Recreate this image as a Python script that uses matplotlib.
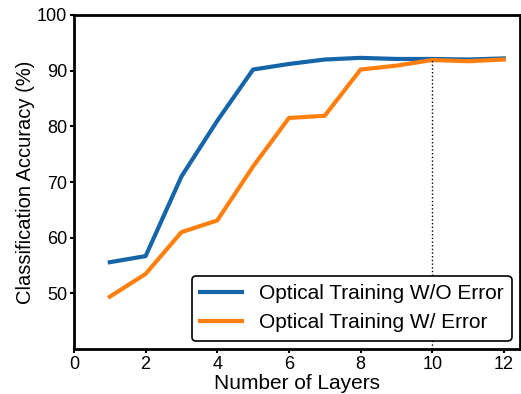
import numpy as np
import matplotlib
matplotlib.use("Agg")
import matplotlib.pyplot as plt

plt.rcParams['font.family'] = ['Liberation Sans', 'DejaVu Sans']

# accuracy vs. number of diffractive layers
layers = [1, 2, 3, 4, 5, 6, 7, 8, 9, 10, 11, 12]
acc_no_error = [55.6, 56.7, 71.0, 81.0, 90.2, 91.2, 92.0, 92.3, 92.1, 92.1, 92.0, 92.2]
acc_with_error = [49.4, 53.5, 61.0, 63.1, 72.8, 81.5, 81.9, 90.2, 90.9, 91.9, 91.7, 92.0]
x_ticks = [0, 2, 4, 6, 8, 10, 12]
y_ticks = [50, 60, 70, 80, 90, 100]
chosen_depth = 10

fig = plt.figure(figsize=(5.21, 3.94), dpi=100)
ax = fig.add_axes([0.142, 0.114, 0.856, 0.848])

ax.plot(layers, acc_no_error, color='#1565a8', linewidth=3, label='Optical Training W/O Error')
ax.plot(layers, acc_with_error, color='#ff7f0e', linewidth=3, label='Optical Training W/ Error')

# mark the selected depth with a dotted line up to the curve
y_mark = acc_with_error[layers.index(chosen_depth)]
ax.plot([chosen_depth, chosen_depth], [40, y_mark], color='black', linestyle=':', linewidth=1)

ax.set_xlim(0, 12.45)
ax.set_ylim(40, 100)
ax.set_xticks(x_ticks)
ax.set_yticks(y_ticks)
ax.tick_params(labelsize=13, width=1.5, length=3, pad=2)
for s in ax.spines.values():
    s.set_linewidth(2)

ax.set_xlabel('Number of Layers', fontsize=15, labelpad=1)
ax.set_ylabel('Classification Accuracy (%)', fontsize=14.5, labelpad=1)

leg = ax.legend(loc='lower right', fontsize=15, frameon=True, fancybox=True,
                handlelength=2.0, borderaxespad=0.4)
leg.get_frame().set_edgecolor('black')
leg.get_frame().set_linewidth(1.2)
leg.get_frame().set_alpha(1)

fig.savefig('out.png', dpi=100)
